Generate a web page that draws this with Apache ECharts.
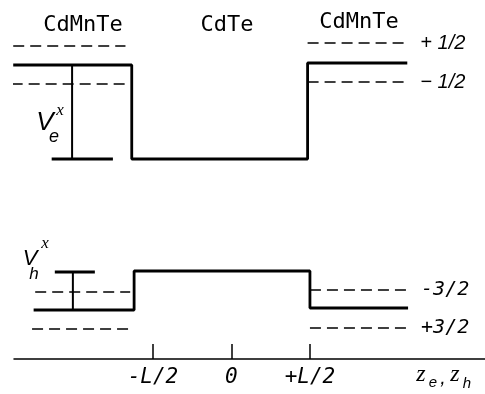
<!DOCTYPE html>
<html>
<head>
<meta charset="utf-8">
<script src="https://cdn.jsdelivr.net/npm/echarts@6/dist/echarts.min.js"></script>
<style>html,body{margin:0;padding:0;background:#fff}#c{width:485px;height:394px}</style>
</head>
<body>
<div id="c"></div>
<script>
// x in units of L/2, y in arbitrary energy units (0 = z axis)
const tickValues = [-1, 0, 1];
const tickLabels = ['-L/2', '0', '+L/2'];

// electron potential profile V_e (upper)
const ePotX = [-2.78, -1.27, -1.27, 0.97, 0.97, 2.24];
const ePotY = [29.4, 29.4, 20.0, 20.0, 29.6, 29.6];
// hole potential profile V_h (lower)
const hPotX = [-2.52, -1.24, -1.24, 1.0, 1.0, 2.25];
const hPotY = [4.9, 4.9, 8.8, 8.8, 5.1, 5.1];

// spin-split levels in barriers (dashed)
const eLeftLevelY = [31.3, 27.5];
const eLeftLevelX0 = [-2.78, -2.80];
const eLeftLevelX1 = [-1.35, -1.31];
const eRightLevelY = [31.6, 27.7];
const eRightLevelNames = ['+ 1/2', '\u2212 1/2'];
const eRightLevelX = [0.97, 2.24];

const hLeftLevelY = [6.7, 3.0];
const hLeftLevelX0 = [-2.50, -2.54];
const hLeftLevelX1 = [-1.29, -1.29];
const hRightLevelY = [6.9, 3.1];
const hRightLevelNames = ['-3/2', '+3/2'];
const hRightLevelX = [1.0, 2.25];

// exchange splitting markers V_e^x, V_h^x
const veBarX = -2.03, veBarY = [29.4, 20.0], veCapX = [-2.29, -1.51];
const vhBarX = -2.02, vhBarY = [8.7, 4.9], vhCapX = [-2.25, -1.74];

const solid = { color: '#000', width: 2.8, type: 'solid' };
const dashed = { color: '#000', width: 1.3, type: [11, 6] };

const series = [];
function line(name, xs, ys, style, label) {
  const s = {
    type: 'line', name: name, data: xs.map((x, i) => [x, ys[i]]),
    symbol: 'none', lineStyle: style, silent: true, animation: false,
    z: style === solid ? 3 : 2
  };
  if (label) {
    s.endLabel = { show: true, formatter: '{a}', distance: 13, color: '#000',
      fontSize: 20, fontStyle: 'italic', fontFamily: label };
  }
  series.push(s);
}
line('Ve', ePotX, ePotY, solid);
line('Vh', hPotX, hPotY, solid);
eLeftLevelY.forEach((y, i) => line('eL' + i, [eLeftLevelX0[i], eLeftLevelX1[i]], [y, y], dashed));
eRightLevelY.forEach((y, i) => line(eRightLevelNames[i], eRightLevelX, [y, y], dashed, 'Liberation Sans'));
hLeftLevelY.forEach((y, i) => line('hL' + i, [hLeftLevelX0[i], hLeftLevelX1[i]], [y, y], dashed));
hRightLevelY.forEach((y, i) => line(hRightLevelNames[i], hRightLevelX, [y, y], dashed, 'DejaVu Sans Mono'));
line('veBar', [veBarX, veBarX], veBarY, { color: '#000', width: 2, type: 'solid' });
line('veCap', veCapX, [veBarY[1], veBarY[1]], solid);
line('vhBar', [vhBarX, vhBarX], vhBarY, { color: '#000', width: 2, type: 'solid' });
line('vhCap', vhCapX, [vhBarY[0], vhBarY[0]], solid);

const chart = echarts.init(document.getElementById('c'), null, { renderer: 'canvas' });
const italic = (t, x, y, size, fam, extra) => Object.assign({
  type: 'text', x: x, y: y,
  style: { text: t, fill: '#000', fontSize: size, fontStyle: 'italic',
    fontFamily: fam || 'Liberation Sans', align: 'center', verticalAlign: 'middle' }
}, extra || {});
const mono = (t, x, y) => ({
  type: 'text', x: x, y: y,
  style: { text: t, fill: '#000', fontSize: 22, fontFamily: 'DejaVu Sans Mono',
    align: 'center', verticalAlign: 'middle' }
});

chart.setOption({
  animation: false,
  backgroundColor: '#fff',
  grid: { left: 14, right: 0, top: 0, bottom: 35 },
  xAxis: {
    type: 'value', min: -2.77, max: 3.23,
    splitLine: { show: false },
    axisLine: { show: true, onZero: false, lineStyle: { color: '#000', width: 1.5 } },
    axisTick: { show: true, inside: true, length: 15, customValues: tickValues,
      lineStyle: { color: '#000', width: 1.5 } },
    axisLabel: { show: true, customValues: tickValues, margin: 8,
      formatter: v => tickLabels[tickValues.indexOf(Math.round(v))],
      color: '#000', fontSize: 21, fontStyle: 'italic', fontFamily: 'DejaVu Sans Mono' }
  },
  yAxis: { type: 'value', min: 0, max: 35.9, show: false },
  series: series,
  graphic: [
    mono('CdMnTe', 83, 25),
    mono('CdTe', 227, 25),
    mono('CdMnTe', 359, 22),
    italic('V', 45, 123, 26),
    italic('e', 54, 137, 18),
    italic('x', 60, 111, 17, 'Liberation Serif'),
    italic('V', 30, 259, 22),
    italic('h', 34, 274, 17),
    italic('x', 45, 244, 17, 'Liberation Serif'),
    italic('z', 421, 375, 24, 'Liberation Serif'),
    italic('e', 433, 383, 15),
    italic(',', 443, 378, 20),
    italic('z', 455, 375, 24, 'Liberation Serif'),
    italic('h', 467, 384, 15)
  ]
});
</script>
</body>
</html>
